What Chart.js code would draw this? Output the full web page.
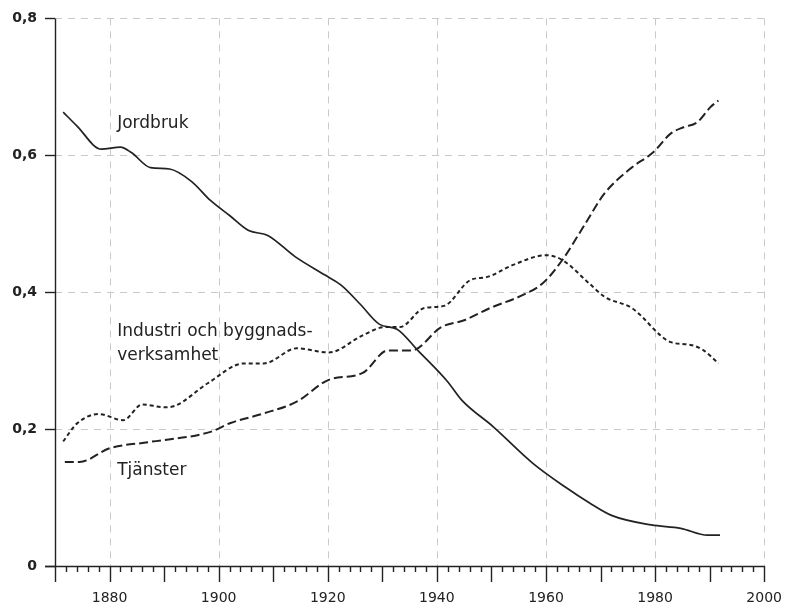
<!DOCTYPE html>
<html>
<head>
<meta charset="utf-8">
<script src="https://cdn.jsdelivr.net/npm/chart.js@4/dist/chart.umd.min.js"></script>
<style>
  html, body { margin: 0; padding: 0; background: #fff; }
  #wrap { width: 798px; height: 606px; }
</style>
</head>
<body>
<div id="wrap"><canvas id="c" width="798" height="606"></canvas></div>
<script>
const INK = '#222'
const GRIDC = '#c9c9c9'

// år / andel av sysselsatta
const jordbrukYears = [1871.5, 1874, 1878.5, 1882, 1884, 1887.5, 1891, 1895, 1898.5, 1902, 1905.5, 1909, 1914, 1919.5, 1922.5, 1926, 1929.5, 1932.7, 1936.5, 1941.9, 1944.6, 1950.4, 1957.6, 1963.6, 1968, 1972, 1979.3, 1984.7, 1989.6, 1991.9]
const jordbrukVals  = [0.663, 0.643, 0.609, 0.612, 0.604, 0.582, 0.580, 0.562, 0.534, 0.512, 0.490, 0.483, 0.452, 0.425, 0.410, 0.382, 0.353, 0.346, 0.315, 0.270, 0.242, 0.203, 0.150, 0.115, 0.092, 0.074, 0.060, 0.055, 0.045, 0.045]

const industriYears = [1871.5, 1874, 1878, 1882.5, 1886, 1890, 1892, 1898, 1904.7, 1908.3, 1914.3, 1920.2, 1926.4, 1930.5, 1933.2, 1937.7, 1941.3, 1946.2, 1949.1, 1954, 1960, 1963, 1967.9, 1970.8, 1975.7, 1982.9, 1986.5, 1988.9, 1991.6]
const industriVals  = [0.182, 0.208, 0.222, 0.213, 0.236, 0.232, 0.234, 0.267, 0.296, 0.296, 0.318, 0.312, 0.337, 0.349, 0.349, 0.377, 0.380, 0.418, 0.422, 0.440, 0.454, 0.447, 0.413, 0.393, 0.377, 0.327, 0.323, 0.315, 0.296]

const tjansterYears = [1871.8, 1874.5, 1880, 1887.2, 1898.5, 1902.2, 1908.3, 1914.3, 1920.2, 1926.4, 1931, 1935.4, 1940.8, 1945, 1949.8, 1955.8, 1959.4, 1963, 1967.2, 1970.8, 1975.7, 1979.6, 1982.9, 1985.2, 1987.7, 1990.1, 1991.6]
const tjansterVals  = [0.152, 0.152, 0.172, 0.181, 0.196, 0.209, 0.223, 0.240, 0.272, 0.282, 0.315, 0.315, 0.349, 0.359, 0.377, 0.396, 0.413, 0.447, 0.500, 0.545, 0.582, 0.604, 0.632, 0.641, 0.648, 0.670, 0.680]

const xTicks = [1880, 1900, 1920, 1940, 1960, 1980, 2000]
const yTicks = [0, 0.2, 0.4, 0.6, 0.8]

const seriesLabels = [
  { text: 'Jordbruk', x: 1881.4, y: 0.647 },
  { text: 'Industri och byggnads-', x: 1881.4, y: 0.342 },
  { text: 'verksamhet', x: 1881.4, y: 0.308 },
  { text: 'Tjänster', x: 1881.4, y: 0.140 },
]

const pts = (xs, ys) => xs.map((x, i) => ({ x, y: ys[i] }))
const fmt = v => v === 0 ? '0' : v.toFixed(1).replace('.', ',')

// dashed grid, tick marks and the in-chart series names
const paperPlugin = {
  id: 'paper',
  beforeDatasetsDraw(chart) {
    const { ctx, chartArea: a, scales: { x, y } } = chart
    ctx.save()
    ctx.strokeStyle = GRIDC
    ctx.lineWidth = 1
    ctx.setLineDash([7, 6])
    xTicks.forEach(v => {
      const px = Math.round(x.getPixelForValue(v)) + 0.5
      ctx.beginPath(); ctx.moveTo(px, a.top); ctx.lineTo(px, a.bottom); ctx.stroke()
    })
    yTicks.slice(1).forEach(v => {
      const py = Math.round(y.getPixelForValue(v)) + 0.5
      ctx.beginPath(); ctx.moveTo(a.left, py); ctx.lineTo(a.right, py); ctx.stroke()
    })
    ctx.restore()
  },
  afterDraw(chart) {
    const { ctx, chartArea: a, scales: { x, y } } = chart
    ctx.save()
    ctx.strokeStyle = INK
    ctx.lineWidth = 1.4
    ctx.setLineDash([])
    // axes
    ctx.beginPath()
    ctx.moveTo(a.left - 10, a.bottom + 0.5); ctx.lineTo(x.getPixelForValue(2000), a.bottom + 0.5)
    ctx.moveTo(a.left + 0.5, a.bottom); ctx.lineTo(a.left + 0.5, y.getPixelForValue(0.8))
    ctx.stroke()
    // x ticks every 2 years, longer every 10
    for (let yr = 1870; yr <= 2000; yr += 2) {
      const px = Math.round(x.getPixelForValue(yr)) + 0.5
      const len = yr % 10 === 0 ? 16 : 6
      ctx.beginPath(); ctx.moveTo(px, a.bottom); ctx.lineTo(px, a.bottom + len); ctx.stroke()
    }
    // y ticks
    yTicks.forEach(v => {
      const py = Math.round(y.getPixelForValue(v)) + 0.5
      ctx.beginPath(); ctx.moveTo(a.left - 10, py); ctx.lineTo(a.left, py); ctx.stroke()
    })
    ctx.fillStyle = INK
    ctx.font = '17px "DejaVu Sans"'
    ctx.textAlign = 'left'
    ctx.textBaseline = 'middle'
    seriesLabels.forEach(l => ctx.fillText(l.text, x.getPixelForValue(l.x), y.getPixelForValue(l.y)))
    ctx.restore()
  }
}

new Chart(document.getElementById('c'), {
  type: 'line',
  data: {
    datasets: [
      { label: 'Jordbruk', data: pts(jordbrukYears, jordbrukVals), borderColor: INK, borderWidth: 1.7 },
      { label: 'Industri och byggnadsverksamhet', data: pts(industriYears, industriVals), borderColor: INK, borderWidth: 2, borderDash: [4, 3] },
      { label: 'Tjänster', data: pts(tjansterYears, tjansterVals), borderColor: INK, borderWidth: 2, borderDash: [9, 4] },
    ]
  },
  options: {
    responsive: false,
    animation: false,
    events: [],
    layout: { padding: { top: 18, right: 25, left: 0, bottom: 0 } },
    elements: { point: { radius: 0 }, line: { tension: 0.4, cubicInterpolationMode: 'monotone' } },
    plugins: { legend: { display: false }, tooltip: { enabled: false } },
    scales: {
      x: {
        type: 'linear', min: 1870, max: 2000,
        grid: { display: false },
        border: { display: false },
        afterFit: s => { s.height = 40 },
        afterBuildTicks: s => { s.ticks = xTicks.map(v => ({ value: v })) },
        ticks: { color: INK, padding: 16, maxRotation: 0, autoSkip: false, callback: v => String(v), font: { family: 'DejaVu Sans', size: 14 } },
      },
      y: {
        min: 0, max: 0.8,
        grid: { display: false },
        border: { display: false },
        afterFit: s => { s.width = 55 },
        afterBuildTicks: s => { s.ticks = yTicks.map(v => ({ value: v })) },
        ticks: { color: INK, padding: 10, callback: v => fmt(v), font: { family: 'DejaVu Sans', size: 14, weight: 'bold' } },
      }
    }
  },
  plugins: [paperPlugin]
})
</script>
</body>
</html>
